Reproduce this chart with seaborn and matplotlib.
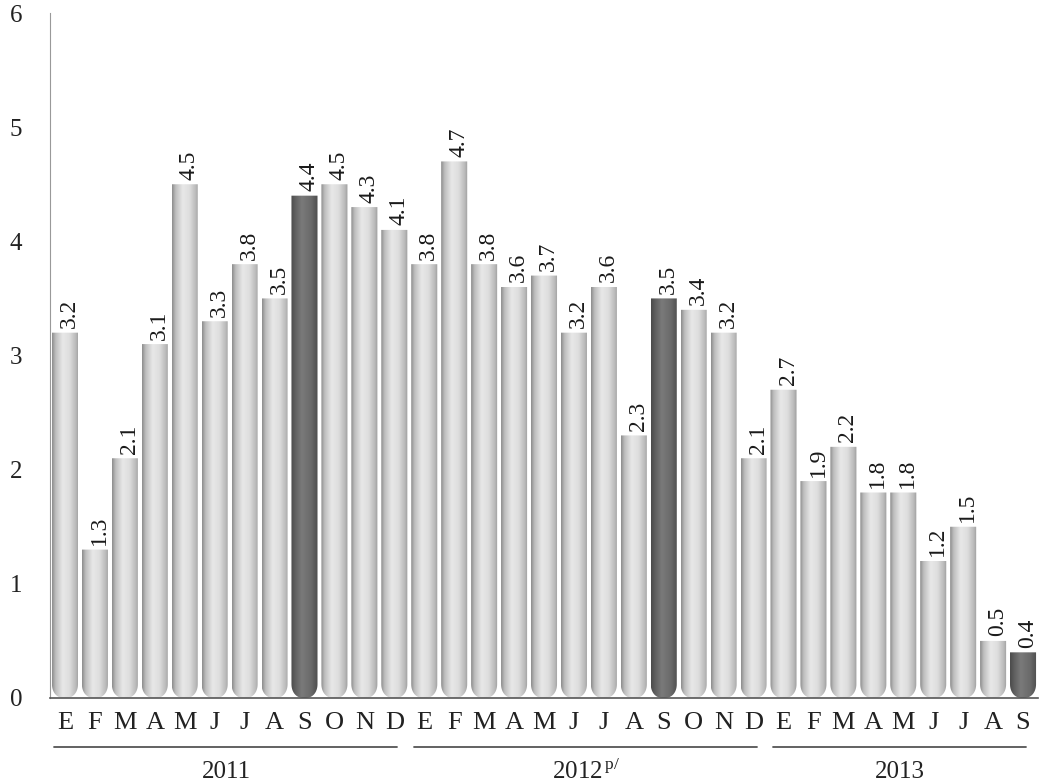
import numpy as np
import pandas as pd
import matplotlib
matplotlib.use('Agg')
import matplotlib.pyplot as plt
import matplotlib.transforms as mtransforms
from matplotlib.path import Path
from matplotlib.patches import PathPatch
from matplotlib.colors import LinearSegmentedColormap
import seaborn as sns

# data
months_2011 = ['E', 'F', 'M', 'A', 'M', 'J', 'J', 'A', 'S', 'O', 'N', 'D']
months_2012 = ['E', 'F', 'M', 'A', 'M', 'J', 'J', 'A', 'S', 'O', 'N', 'D']
months_2013 = ['E', 'F', 'M', 'A', 'M', 'J', 'J', 'A', 'S']
values_2011 = [3.2, 1.3, 2.1, 3.1, 4.5, 3.3, 3.8, 3.5, 4.4, 4.5, 4.3, 4.1]
values_2012 = [3.8, 4.7, 3.8, 3.6, 3.7, 3.2, 3.6, 2.3, 3.5, 3.4, 3.2, 2.1]
values_2013 = [2.7, 1.9, 2.2, 1.8, 1.8, 1.2, 1.5, 0.5, 0.4]
year_labels = ['2011', '2012$^{\\,\\mathrm{p/}}$', '2013']
highlight_month = 'S'

months = months_2011 + months_2012 + months_2013
values = values_2011 + values_2012 + values_2013
years = ['2011'] * len(months_2011) + ['2012'] * len(months_2012) + ['2013'] * len(months_2013)
df = pd.DataFrame({'pos': np.arange(len(values)), 'mes': months, 'anio': years, 'valor': values})

sns.set_style('white')
plt.rcParams['font.family'] = ['Liberation Serif', 'DejaVu Serif']
plt.rcParams['mathtext.fontset'] = 'custom'
plt.rcParams['mathtext.rm'] = 'Liberation Serif'
plt.rcParams['mathtext.it'] = 'Liberation Serif'

fig = plt.figure(figsize=(10.4, 7.83), dpi=100)
ax = fig.add_axes([50 / 1040, 1 - 698 / 783, 988 / 1040, 685 / 783])

bar_w = 0.87
sns.barplot(data=df, x='pos', y='valor', color='#cccccc', width=bar_w, ax=ax, zorder=2)

light = LinearSegmentedColormap.from_list('light', [
    (0.0, '#8c8c8c'), (0.12, '#bcbcbc'), (0.4, '#e8e8e8'),
    (0.65, '#dedede'), (0.9, '#b8b8b8'), (1.0, '#9c9c9c')])
dark = LinearSegmentedColormap.from_list('dark', [
    (0.0, '#4a4a4a'), (0.15, '#606060'), (0.4, '#7a7a7a'),
    (0.75, '#6a6a6a'), (1.0, '#4e4e4e')])
grad = np.linspace(0, 1, 64).reshape(1, -1)

r_y = 0.12
for patch, m, v in zip(ax.patches, df['mes'], df['valor']):
    x0 = patch.get_x()
    w = patch.get_width()
    h = patch.get_height()
    patch.set_visible(False)
    cx = x0 + w / 2
    ry = min(r_y, h)
    th = np.linspace(np.pi, 2 * np.pi, 30)
    arc_x = cx + (w / 2) * np.sign(np.cos(th)) * np.abs(np.cos(th)) ** 0.8
    arc_y = ry + ry * np.sin(th)
    verts = [(x0, h)] + list(zip(arc_x, arc_y)) + [(x0 + w, h), (x0, h)]
    codes = [Path.MOVETO] + [Path.LINETO] * (len(verts) - 2) + [Path.CLOSEPOLY]
    clip = PathPatch(Path(verts, codes), facecolor='none', edgecolor='none', transform=ax.transData)
    ax.add_patch(clip)
    cmap = dark if m == highlight_month else light
    im = ax.imshow(grad, cmap=cmap, aspect='auto', extent=(x0, x0 + w, 0, h),
                   interpolation='bicubic', zorder=2)
    im.set_clip_path(clip)
    ax.text(cx + 0.15, h + 0.04, f'{v:.1f}', rotation=90, ha='center', va='bottom',
            fontsize=17, color='#1a1a1a', zorder=3, clip_on=False)

n = len(values)
ax.set_xlim(-0.5, n - 0.5)
ax.set_ylim(0, 6)
ax.set_yticks(range(7))
ax.set_xticks(np.arange(n))
ax.set_xticklabels(months)
ax.set_xticks(np.arange(n + 1) - 0.5, minor=True)
ax.tick_params(axis='x', which='major', length=0, pad=10, labelsize=19, colors='#222222')
ax.tick_params(axis='x', which='minor', length=5, width=1, color='#555555', direction='out')
ax.tick_params(axis='y', length=6, width=1, color='#888888', direction='out', pad=14,
               labelsize=18, labelcolor='#222222')
ax.set_xlabel('')
ax.set_ylabel('')
for s in ['top', 'right']:
    ax.spines[s].set_visible(False)
ax.spines['left'].set_color('#999999')
ax.spines['bottom'].set_color('#555555')
ax.spines['bottom'].set_linewidth(1.2)

# year groups under the month labels
trans = mtransforms.blended_transform_factory(ax.transData, ax.transAxes)
start = 0
for lab, grp in zip(year_labels, [months_2011, months_2012, months_2013]):
    end = start + len(grp) - 1
    ax.plot([start - 0.35, end + 0.1], [-0.072, -0.072], color='#555555', lw=1.3,
            transform=trans, clip_on=False)
    ax.text((start + end) / 2 - 0.1, -0.108, lab, transform=trans, ha='center', va='center',
            fontsize=18, color='#222222')
    start = end + 1

fig.savefig('out.png', dpi=100)
